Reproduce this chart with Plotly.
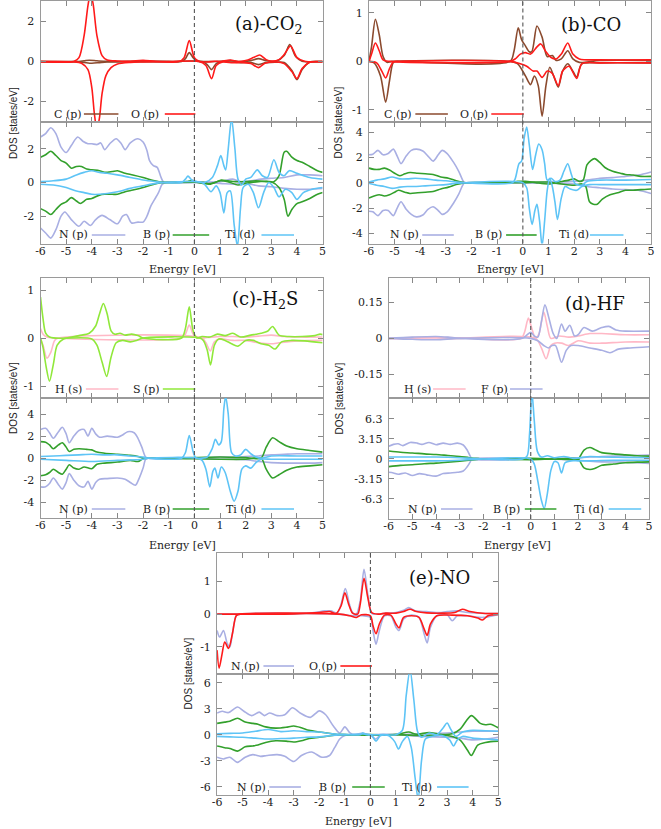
import plotly.graph_objects as go

W, H = 661, 829

# ---------------- DATA (energy [eV], DOS [states/eV]) ----------------
# (a) CO2 : adsorbate
a_C_up = [(-6,0),(-4.6,0),(-4.3,0.04),(-4.1,0.07),(-3.8,0.04),(-3.4,0.01),(-2.0,0.02),(-1.0,0),(-0.5,0),(-0.35,0.15),(-0.2,0.45),(-0.05,0.2),(0.1,0.02),(0.4,0),(1.0,0.02),(1.4,0.05),(1.8,0),(2.2,0.05),(2.5,0.15),(2.8,0.05),(3.2,0.02),(3.5,0.3),(3.72,0.85),(3.95,0.25),(4.2,0.02),(5,0)]
a_C_dn = [(-6,0),(-4.6,0),(-4.3,-0.04),(-4.0,-0.08),(-3.7,-0.05),(-3.4,-0.02),(-1,0),(0.3,0),(0.5,-0.15),(0.67,-0.4),(0.85,-0.1),(1.1,0),(1.5,-0.03),(1.8,-0.05),(2.2,-0.05),(2.5,-0.15),(2.8,-0.05),(3.2,-0.03),(3.5,-0.05),(3.8,-0.45),(4.0,-0.9),(4.2,-0.4),(4.5,-0.02),(5,0)]
a_O_up = [(-6,0),(-4.7,0.01),(-4.5,0.2),(-4.3,1.3),(-4.15,2.8),(-4.05,3.4),(-3.95,2.9),(-3.8,1.3),(-3.6,0.3),(-3.4,0.08),(-3.0,0.03),(-2.5,0.02),(-2.0,0.06),(-1.5,0.01),(-0.6,0),(-0.4,0.2),(-0.2,1.05),(0.0,0.2),(0.2,0.0),(0.5,-0.02),(0.8,0.02),(1.0,0.0),(1.4,0.08),(1.7,0.0),(2.0,0.05),(2.3,0.2),(2.55,0.33),(2.8,0.1),(3.0,0.03),(3.3,0.1),(3.5,0.35),(3.75,0.78),(4.0,0.2),(4.3,0.02),(5,0)]
a_O_dn = [(-6,0),(-4.7,-0.01),(-4.4,-0.08),(-4.15,-0.4),(-4.0,-1.3),(-3.9,-2.6),(-3.8,-3.4),(-3.7,-2.8),(-3.6,-1.6),(-3.45,-0.7),(-3.25,-0.3),(-3.0,-0.12),(-2.5,-0.04),(-2.0,-0.02),(-1,0),(0.2,0),(0.45,-0.2),(0.67,-0.85),(0.85,-0.2),(1.1,-0.02),(1.5,-0.06),(1.8,-0.04),(2.2,-0.1),(2.5,-0.3),(2.75,-0.08),(3.2,-0.02),(3.5,-0.1),(3.8,-0.5),(4.0,-0.85),(4.2,-0.35),(4.5,-0.03),(5,0)]
# (a) CO2 : substrate
a_N_up = [(-6,2.7),(-5.8,2.9),(-5.6,3.25),(-5.4,2.9),(-5.2,2.1),(-5.0,1.78),(-4.8,2.2),(-4.55,2.7),(-4.35,2.45),(-4.15,2.3),(-4.0,2.3),(-3.8,2.25),(-3.65,2.35),(-3.5,1.95),(-3.3,2.3),(-3.05,2.6),(-2.85,2.3),(-2.7,1.95),(-2.5,2.35),(-2.2,2.6),(-2.0,2.4),(-1.85,1.9),(-1.75,1.3),(-1.6,1.0),(-1.45,0.9),(-1.3,0.3),(-1.2,0.02),(-1.0,0),(0,0),(0.5,0.02),(1.0,0.05),(1.5,0.2),(1.8,0.05),(2.2,0.1),(2.6,0.2),(3.0,0.25),(3.5,0.3),(4.0,0.45),(4.5,0.45),(5,0.4)]
a_N_dn = [(-6,-2.7),(-5.8,-3.0),(-5.6,-3.3),(-5.4,-2.8),(-5.2,-2.0),(-5.05,-1.75),(-4.8,-2.2),(-4.5,-2.6),(-4.3,-2.3),(-4.05,-2.55),(-3.85,-2.2),(-3.6,-1.95),(-3.3,-2.2),(-3.0,-2.45),(-2.8,-2.0),(-2.65,-1.9),(-2.45,-2.4),(-2.2,-2.35),(-2.0,-2.35),(-1.85,-2.0),(-1.7,-1.4),(-1.55,-1.0),(-1.4,-0.6),(-1.25,-0.1),(-1.1,0),(0,0),(1.0,-0.05),(1.5,-0.1),(2.0,-0.05),(2.5,-0.2),(3.0,-0.25),(3.5,-0.35),(4.0,-0.4),(4.5,-0.4),(5,-0.35)]
a_B_up = [(-6,1.5),(-5.8,1.65),(-5.6,1.85),(-5.4,1.6),(-5.2,1.3),(-5.0,1.15),(-4.8,0.85),(-4.6,0.95),(-4.4,0.95),(-4.2,0.8),(-4.0,0.75),(-3.7,0.7),(-3.5,0.6),(-3.2,0.65),(-3.0,0.7),(-2.7,0.55),(-2.4,0.45),(-2.0,0.3),(-1.6,0.12),(-1.3,0.02),(-1.0,0),(-0.3,0.05),(-0.1,0.12),(0.1,0.02),(0.5,-0.08),(0.8,0.0),(1.05,0.15),(1.3,0.1),(1.6,0.05),(2.0,0.05),(2.4,0.1),(2.8,0.05),(3.1,0.05),(3.3,0.4),(3.5,1.8),(3.6,1.85),(3.8,1.5),(4.0,1.3),(4.2,1.2),(4.5,0.95),(4.8,0.7),(5,0.6)]
a_B_dn = [(-6,-1.55),(-5.8,-1.7),(-5.6,-1.9),(-5.4,-1.6),(-5.2,-1.3),(-5.0,-1.15),(-4.8,-0.9),(-4.6,-1.1),(-4.45,-1.25),(-4.2,-1.0),(-4.0,-0.95),(-3.7,-0.75),(-3.5,-0.7),(-3.2,-0.7),(-3.0,-0.7),(-2.7,-0.55),(-2.4,-0.45),(-2.0,-0.3),(-1.6,-0.12),(-1.3,-0.02),(-1.0,0),(0.4,0),(0.6,-0.1),(1.0,0.1),(1.3,0.05),(1.7,-0.15),(2.0,-0.05),(2.5,0.05),(3.0,0.05),(3.3,-0.3),(3.5,-1.0),(3.65,-2.0),(3.8,-1.6),(4.0,-1.25),(4.2,-1.15),(4.5,-0.95),(4.8,-0.7),(5,-0.6)]
a_Ti_up = [(-6,0.05),(-5.5,0.1),(-5.0,0.2),(-4.6,0.45),(-4.3,0.6),(-4.0,0.7),(-3.7,0.6),(-3.4,0.55),(-3.0,0.45),(-2.5,0.3),(-2.0,0.15),(-1.5,0.05),(-1.2,0),(-0.5,0),(-0.35,0.2),(-0.25,0.38),(-0.1,0.15),(0.1,0.05),(0.4,0.0),(0.7,0.3),(0.9,1.0),(1.03,1.6),(1.15,1.0),(1.22,0.75),(1.32,2.0),(1.45,3.8),(1.58,2.0),(1.7,0.2),(1.85,-0.15),(2.0,0.2),(2.2,0.3),(2.45,0.75),(2.65,0.4),(2.85,0.3),(3.1,1.35),(3.3,0.6),(3.5,0.4),(3.7,0.7),(4.0,0.55),(4.5,0.3),(5,0.2)]
a_Ti_dn = [(-6,-0.1),(-5.5,-0.15),(-5.0,-0.3),(-4.6,-0.5),(-4.3,-0.6),(-4.0,-0.7),(-3.7,-0.7),(-3.4,-0.65),(-3.0,-0.55),(-2.5,-0.35),(-2.0,-0.2),(-1.5,-0.05),(-1.2,0),(0.3,0),(0.45,-0.2),(0.65,-0.55),(0.85,-0.2),(1.0,-0.6),(1.15,-1.8),(1.28,-0.6),(1.4,-0.5),(1.55,-2.5),(1.68,-3.8),(1.8,-1.5),(1.9,-0.3),(2.1,-0.1),(2.3,-0.6),(2.5,-1.5),(2.7,-0.6),(2.9,0.0),(3.1,-0.3),(3.3,-0.85),(3.55,-0.4),(3.8,-0.6),(4.0,-1.0),(4.25,-0.6),(4.6,-0.4),(5,-0.3)]

# (b) CO : adsorbate
b_C_up = [(-6,0),(-5.9,0.3),(-5.75,0.87),(-5.6,0.55),(-5.45,0.1),(-5.3,-0.02),(-5.1,0),(-0.5,0),(-0.35,0.2),(-0.18,0.69),(-0.05,0.45),(0.1,0.32),(0.25,0.2),(0.35,0.2),(0.55,0.73),(0.75,0.5),(0.95,0.1),(1.15,0.12),(1.3,0.02),(1.5,0.05),(1.75,0.22),(1.95,0.05),(2.2,-0.02),(3,0.02),(5,0.02)]
b_C_dn = [(-6,0),(-5.8,-0.03),(-5.55,-0.3),(-5.35,-0.84),(-5.2,-0.4),(-5.05,-0.02),(-4.9,0),(-0.5,0),(-0.2,-0.05),(0.1,-0.3),(0.3,-0.48),(0.45,-0.3),(0.6,-0.5),(0.75,-1.13),(0.9,-0.5),(1.05,-0.12),(1.2,-0.3),(1.38,-0.53),(1.55,-0.2),(1.75,-0.05),(1.95,-0.2),(2.1,-0.32),(2.3,-0.05),(3,-0.03),(5,-0.03)]
b_O_up = [(-6,0),(-5.9,0.15),(-5.75,0.38),(-5.6,0.22),(-5.45,0.03),(-5.2,0),(-0.5,0),(-0.3,0.05),(-0.1,0.15),(0.1,0.18),(0.3,0.15),(0.55,0.3),(0.7,0.36),(0.9,0.2),(1.1,0.08),(1.3,0.05),(1.5,0.15),(1.75,0.38),(1.95,0.15),(2.2,0.05),(3,0.03),(5,0.03)]
b_O_dn = [(-6,0),(-5.7,-0.03),(-5.5,-0.2),(-5.35,-0.34),(-5.2,-0.15),(-5.05,-0.01),(-4.9,0),(-0.5,0),(-0.1,-0.05),(0.15,-0.1),(0.4,-0.2),(0.55,-0.2),(0.75,-0.33),(0.95,-0.2),(1.15,-0.25),(1.38,-0.5),(1.55,-0.2),(1.8,-0.1),(2.1,-0.35),(2.3,-0.05),(3,-0.03),(5,-0.03)]
# (b) CO : substrate
b_N_up = [(-6,2.2),(-5.85,2.25),(-5.65,2.55),(-5.45,2.2),(-5.25,2.3),(-5.05,2.65),(-4.9,2.1),(-4.75,1.5),(-4.55,2.1),(-4.35,2.55),(-4.15,2.65),(-3.9,2.5),(-3.7,2.1),(-3.5,1.7),(-3.3,2.2),(-3.15,2.55),(-2.95,2.3),(-2.7,1.6),(-2.5,0.9),(-2.3,0.05),(-2.2,0),(0,0),(1.0,0.05),(2.0,0.1),(2.5,0.2),(3.0,0.35),(3.5,0.4),(4.0,0.5),(4.5,0.6),(5,0.85)]
b_N_dn = [(-6,-2.25),(-5.85,-2.3),(-5.65,-2.6),(-5.45,-2.2),(-5.25,-2.2),(-5.05,-2.6),(-4.9,-2.0),(-4.75,-1.5),(-4.55,-2.1),(-4.35,-2.5),(-4.15,-2.7),(-3.9,-2.55),(-3.7,-2.1),(-3.5,-1.9),(-3.3,-2.2),(-3.15,-2.5),(-2.95,-2.3),(-2.7,-1.6),(-2.5,-0.9),(-2.3,-0.05),(-2.2,0),(0,0),(1.0,-0.05),(2.0,-0.1),(2.5,-0.3),(3.0,-0.4),(3.5,-0.5),(4.0,-0.55),(4.5,-0.6),(5,-0.85)]
b_B_up = [(-6,1.15),(-5.8,1.05),(-5.6,1.05),(-5.4,1.15),(-5.2,1.0),(-5.0,0.75),(-4.8,0.55),(-4.6,0.7),(-4.4,0.8),(-4.1,0.75),(-3.8,0.7),(-3.5,0.65),(-3.2,0.45),(-2.9,0.35),(-2.6,0.15),(-2.3,0.02),(-2.2,0),(-0.5,0),(-0.2,0.1),(0.1,0.1),(0.5,0.0),(1.0,-0.1),(1.4,0.05),(1.8,0.2),(2.0,0.3),(2.2,0.1),(2.35,0.2),(2.5,1.4),(2.65,1.75),(2.8,1.9),(3.0,1.6),(3.2,1.2),(3.5,0.9),(3.8,0.75),(4.0,0.65),(4.3,0.6),(4.6,0.5),(5,0.5)]
b_B_dn = [(-6,-1.2),(-5.8,-1.05),(-5.6,-0.95),(-5.4,-1.05),(-5.2,-0.95),(-5.0,-0.75),(-4.85,-0.6),(-4.6,-0.75),(-4.4,-0.85),(-4.1,-0.8),(-3.8,-0.75),(-3.5,-0.7),(-3.2,-0.5),(-2.9,-0.35),(-2.6,-0.15),(-2.3,-0.02),(-2.2,0),(0,0),(0.5,0.05),(1.0,0.05),(1.5,-0.1),(2.0,-0.2),(2.3,-0.1),(2.45,-0.3),(2.6,-1.5),(2.75,-1.7),(2.9,-1.7),(3.1,-1.3),(3.4,-0.95),(3.7,-0.8),(4.0,-0.6),(4.3,-0.6),(4.6,-0.55),(5,-0.5)]
b_Ti_up = [(-6,0.05),(-5.7,0.2),(-5.4,0.3),(-5.1,0.45),(-4.8,0.3),(-4.5,0.3),(-4.2,0.35),(-3.8,0.3),(-3.4,0.2),(-3.0,0.15),(-2.6,0.05),(-2.3,0),(-0.4,0),(-0.3,0.3),(-0.15,1.5),(-0.05,1.7),(0.05,3.5),(0.15,4.4),(0.25,3.0),(0.38,1.05),(0.5,2.2),(0.62,3.05),(0.75,2.6),(0.85,1.5),(0.95,0.2),(1.1,0.35),(1.25,0.1),(1.45,0.2),(1.6,0.9),(1.75,1.5),(1.9,0.6),(2.05,-0.1),(2.3,-0.2),(2.5,0.1),(3.0,0.2),(4.0,0.2),(5,0.25)]
b_Ti_dn = [(-6,-0.05),(-5.7,-0.2),(-5.4,-0.3),(-5.1,-0.45),(-4.8,-0.35),(-4.5,-0.3),(-4.2,-0.3),(-3.8,-0.25),(-3.4,-0.2),(-3.0,-0.15),(-2.6,-0.05),(-2.3,0),(0,0),(0.15,-0.4),(0.25,-2.0),(0.36,-3.3),(0.47,-2.2),(0.55,-1.7),(0.65,-3.0),(0.75,-5.0),(0.85,-3.0),(0.95,-0.6),(1.05,0.35),(1.15,-0.3),(1.25,-1.5),(1.35,-2.9),(1.5,-1.2),(1.65,-0.3),(1.85,-0.5),(2.1,-0.6),(2.3,-0.3),(2.6,-0.15),(3.0,-0.15),(4.0,-0.15),(5,-0.15)]

# (c) H2S : adsorbate
c_H_up = [(-6,0.2),(-5.9,0.08),(-5.75,0.02),(-5.5,0),(-0.5,0),(-0.35,0.08),(-0.2,0.27),(-0.05,0.08),(0.1,0),(0.5,0.01),(1,0.03),(1.5,0.03),(2,0.02),(2.5,0.04),(3,0.06),(3.5,0.03),(4,0.02),(5,0.02)]
c_H_dn = [(-6,-0.02),(-5.9,-0.15),(-5.75,-0.42),(-5.6,-0.3),(-5.45,-0.05),(-5.3,0),(0.3,0),(0.45,-0.1),(0.62,-0.27),(0.78,-0.08),(1.0,-0.02),(1.5,-0.05),(2.0,-0.05),(2.5,-0.1),(3.0,-0.12),(3.3,-0.1),(4.0,-0.06),(5,-0.05)]
c_S_up = [(-6,0.85),(-5.9,0.4),(-5.8,0.1),(-5.65,0.02),(-5.0,0),(-4.5,0.05),(-4.1,0.1),(-3.85,0.25),(-3.7,0.5),(-3.55,0.72),(-3.4,0.5),(-3.25,0.15),(-3.1,0.08),(-2.9,0.1),(-2.7,0.06),(-2.45,0.08),(-2.2,0.05),(-2.0,0),(-0.5,0),(-0.35,0.2),(-0.2,0.65),(-0.05,0.15),(0.1,0.0),(0.3,0.03),(0.6,0.02),(0.9,0.08),(1.2,0.05),(1.5,0.1),(1.8,0.02),(2.2,0.06),(2.6,0.1),(2.85,0.14),(3.05,0.24),(3.3,0.06),(3.7,0.03),(4.2,0.03),(4.7,0.05),(4.9,0.08),(5,0.07)]
c_S_dn = [(-6,0),(-5.9,-0.2),(-5.78,-0.6),(-5.65,-0.9),(-5.5,-0.55),(-5.35,-0.15),(-5.1,-0.02),(-4.8,0),(-4.0,-0.02),(-3.8,-0.15),(-3.6,-0.5),(-3.42,-0.8),(-3.25,-0.4),(-3.05,-0.1),(-2.8,-0.05),(-2.5,-0.08),(-2.25,-0.05),(-2.0,0),(0.2,0),(0.35,-0.05),(0.5,-0.25),(0.63,-0.56),(0.78,-0.15),(0.95,-0.02),(1.2,-0.05),(1.45,-0.12),(1.7,-0.17),(2.0,-0.05),(2.3,-0.05),(2.6,-0.12),(2.9,-0.15),(3.15,-0.23),(3.4,-0.08),(3.8,-0.05),(4.3,-0.06),(5,-0.1)]
# (c) H2S : substrate
c_N_up = [(-6,2.6),(-5.8,2.7),(-5.65,2.3),(-5.5,1.8),(-5.3,2.4),(-5.15,2.8),(-5.0,2.2),(-4.88,1.4),(-4.7,2.0),(-4.5,2.5),(-4.3,2.6),(-4.15,2.0),(-4.0,2.7),(-3.85,2.2),(-3.7,1.9),(-3.4,2.0),(-3.0,1.9),(-2.8,2.1),(-2.6,2.4),(-2.35,2.3),(-2.2,1.8),(-2.05,1.0),(-1.9,0.1),(-1.8,0),(0,0),(0.5,0.05),(1.0,0.1),(1.5,0.1),(2.0,0.15),(2.5,0.2),(3.0,0.3),(3.5,0.35),(4.0,0.4),(4.5,0.4),(5,0.4)]
c_N_dn = [(-6,-2.6),(-5.8,-2.6),(-5.65,-2.3),(-5.5,-1.8),(-5.3,-2.4),(-5.15,-2.8),(-5.0,-2.2),(-4.88,-1.4),(-4.7,-2.0),(-4.5,-2.5),(-4.3,-2.6),(-4.15,-2.1),(-4.0,-2.8),(-3.85,-2.2),(-3.7,-1.9),(-3.4,-1.85),(-3.0,-1.8),(-2.7,-1.9),(-2.5,-2.2),(-2.3,-2.45),(-2.15,-1.8),(-2.0,-0.9),(-1.9,-0.1),(-1.8,0),(0,0),(0.5,-0.05),(1.0,-0.1),(1.5,-0.1),(2.0,-0.15),(2.5,-0.3),(3.0,-0.4),(3.5,-0.45),(4.0,-0.45),(4.5,-0.45),(5,-0.4)]
c_B_up = [(-6,1.5),(-5.8,1.45),(-5.65,1.2),(-5.5,0.85),(-5.3,1.2),(-5.15,1.4),(-5.0,1.0),(-4.88,0.6),(-4.7,0.8),(-4.5,0.85),(-4.2,0.8),(-4.0,0.75),(-3.8,0.55),(-3.5,0.45),(-3.0,0.35),(-2.5,0.25),(-2.2,0.15),(-2.0,0.02),(-1.8,0),(0,0.05),(1,0.1),(2,0.05),(2.6,0.0),(2.8,1.0),(3.05,1.85),(3.3,1.5),(3.6,1.1),(4.0,0.85),(4.5,0.7),(5,0.55)]
c_B_dn = [(-6,-1.6),(-5.8,-1.5),(-5.65,-1.3),(-5.5,-1.0),(-5.3,-1.3),(-5.15,-1.45),(-5.0,-1.0),(-4.88,-0.6),(-4.7,-0.9),(-4.5,-1.0),(-4.3,-0.8),(-4.0,-0.95),(-3.8,-0.55),(-3.5,-0.45),(-3.0,-0.35),(-2.5,-0.2),(-2.2,-0.3),(-2.0,-0.05),(-1.8,0),(0,-0.05),(1.0,-0.1),(2.0,-0.1),(2.6,0.0),(2.8,-1.0),(3.05,-1.8),(3.3,-1.5),(3.6,-1.1),(4.0,-0.8),(4.5,-0.7),(5,-0.6)]
c_Ti_up = [(-6,0.15),(-5.5,0.2),(-5.0,0.25),(-4.5,0.3),(-4.0,0.35),(-3.5,0.3),(-3.0,0.3),(-2.5,0.2),(-2.0,0.1),(-1.8,0),(-0.5,0),(-0.35,0.5),(-0.2,2.05),(-0.05,0.6),(0.05,0.05),(0.3,0.0),(0.5,0.1),(0.7,0.9),(0.82,1.7),(0.95,1.2),(1.05,1.5),(1.15,4.5),(1.22,5.6),(1.32,4.0),(1.45,0.5),(1.6,0.2),(1.8,0.3),(2.0,0.8),(2.2,0.4),(2.4,0.1),(2.6,0.0),(3.0,0.2),(4.0,0.2),(5,0.2)]
c_Ti_dn = [(-6,-0.1),(-5.0,-0.2),(-4.0,-0.3),(-3.0,-0.2),(-2.0,-0.1),(-1.8,0),(0.1,0),(0.3,-0.2),(0.45,-1.0),(0.6,-2.6),(0.72,-1.2),(0.8,-0.9),(0.92,-1.8),(1.05,-0.8),(1.2,-1.3),(1.4,-3.0),(1.55,-3.9),(1.7,-3.0),(1.85,-1.0),(2.0,-0.7),(2.2,-0.9),(2.4,-0.4),(2.6,-0.1),(3.0,-0.1),(4.0,-0.1),(5,-0.1)]

# (d) HF : adsorbate
d_H_up = [(-6,0),(-5,0.003),(-4,0.004),(-3,0.002),(-0.4,0),(-0.25,0.03),(-0.1,0.085),(0.05,0.04),(0.2,0.0),(0.35,0.02),(0.55,0.11),(0.7,0.05),(0.85,0.0),(1.2,0.01),(1.6,0.005),(2.0,0.01),(2.5,0.02),(3.0,0.02),(4.0,0.015),(5,0.015)]
d_H_dn = [(-6,0),(-4,-0.003),(-3,0),(0.2,0),(0.45,-0.04),(0.65,-0.085),(0.85,-0.03),(1.0,-0.02),(1.3,-0.02),(1.6,-0.03),(2.0,-0.01),(2.5,-0.02),(3.0,-0.02),(4.0,-0.015),(5,-0.015)]
d_F_up = [(-6,0),(-5,0.005),(-4,0.008),(-3.5,0.005),(-3,0),(-0.35,0),(-0.15,0.015),(0.0,0.025),(0.15,0.01),(0.3,0.005),(0.45,0.07),(0.6,0.14),(0.78,0.08),(0.95,0.02),(1.1,0.0),(1.3,0.06),(1.45,0.03),(1.65,0.055),(1.85,0.01),(2.0,0.015),(2.25,0.045),(2.6,0.03),(3.0,0.045),(3.3,0.05),(3.6,0.035),(4.0,0.03),(5,0.03)]
d_F_dn = [(-6,0),(-5,-0.004),(-4,-0.006),(-3,0),(0.0,0),(0.3,-0.01),(0.55,-0.03),(0.75,-0.04),(0.9,-0.03),(1.05,-0.03),(1.3,-0.1),(1.5,-0.05),(1.7,-0.03),(2.0,-0.03),(2.5,-0.04),(3.0,-0.05),(3.35,-0.06),(3.7,-0.045),(4.2,-0.04),(5,-0.035)]
# (d) HF : substrate
d_N_up = [(-6,2.0),(-5.8,2.3),(-5.6,2.4),(-5.4,2.1),(-5.1,2.6),(-4.8,2.5),(-4.6,2.3),(-4.3,2.6),(-4.0,2.25),(-3.7,2.5),(-3.4,2.3),(-3.1,2.5),(-2.85,2.2),(-2.7,1.5),(-2.55,0.4),(-2.5,0),(0,0),(1,0.05),(2,0.2),(2.5,0.3),(3,0.4),(4,0.5),(5,0.6)]
d_N_dn = [(-6,-2.1),(-5.8,-2.2),(-5.6,-2.4),(-5.3,-2.2),(-5.0,-2.6),(-4.7,-2.3),(-4.4,-2.5),(-4.0,-2.7),(-3.7,-2.3),(-3.4,-2.2),(-3.1,-2.1),(-2.85,-1.9),(-2.7,-1.3),(-2.55,-0.4),(-2.5,0),(0,0),(1,-0.05),(2,-0.2),(2.5,-0.35),(3,-0.45),(4,-0.5),(5,-0.7)]
d_B_up = [(-6,1.25),(-5.5,1.05),(-5.0,0.95),(-4.5,0.8),(-4.0,0.7),(-3.5,0.55),(-3.0,0.4),(-2.6,0.2),(-2.2,0.05),(-2.0,0),(0,0.1),(1,0.0),(2.0,0.0),(2.1,0.5),(2.25,1.4),(2.5,1.8),(2.7,1.5),(3.0,1.0),(3.5,0.8),(4.0,0.65),(4.5,0.5),(5,0.45)]
d_B_dn = [(-6,-1.2),(-5.5,-1.0),(-5.0,-0.9),(-4.5,-0.75),(-4.0,-0.65),(-3.5,-0.5),(-3.0,-0.35),(-2.6,-0.2),(-2.2,-0.05),(-2.0,0),(0,-0.1),(1,0.0),(2.0,0.0),(2.1,-0.5),(2.25,-1.4),(2.5,-1.65),(2.7,-1.5),(3.0,-1.0),(3.5,-0.8),(4.0,-0.6),(4.5,-0.5),(5,-0.45)]
d_Ti_up = [(-6,0.3),(-5,0.3),(-4,0.3),(-3,0.2),(-2.5,0.1),(-2,0),(-0.35,0),(-0.15,0.5),(-0.05,4.0),(0.05,10.5),(0.15,6.0),(0.28,1.2),(0.45,0.3),(0.7,0.5),(1.0,0.2),(1.4,0.4),(1.8,0.1),(2.5,0.4),(3,0.3),(4,0.25),(5,0.2)]
d_Ti_dn = [(-6,-0.3),(-5,-0.3),(-4,-0.3),(-3,-0.2),(-2.5,-0.1),(-2,0),(0,0),(0.15,-0.8),(0.3,-3.5),(0.45,-6.5),(0.57,-7.8),(0.7,-5.5),(0.85,-1.8),(1.0,-0.4),(1.15,-0.6),(1.3,-2.2),(1.45,-0.6),(1.7,-0.3),(2.0,-0.3),(2.5,-0.3),(3,-0.25),(4,-0.2),(5,-0.2)]

# (e) NO : adsorbate
e_Nmol_up = [(-6,0),(-5.2,0),(-3,0.01),(-2.2,0.05),(-1.8,0.1),(-1.55,0.1),(-1.3,0.03),(-1.15,0.3),(-0.98,0.78),(-0.82,0.3),(-0.7,0.05),(-0.55,0.0),(-0.4,0.4),(-0.25,1.37),(-0.1,0.6),(0.05,0.02),(0.3,0.0),(0.6,0.03),(1.0,0.05),(1.3,0.12),(1.5,0.2),(1.75,0.1),(2.2,0.08),(2.7,0.05),(3.0,0.08),(3.4,0.1),(3.8,0.05),(4.5,0.02),(5,0.02)]
e_Nmol_dn = [(-6,-0.5),(-5.9,-0.7),(-5.75,-0.5),(-5.6,-0.9),(-5.5,-1.0),(-5.4,-0.6),(-5.25,-0.05),(-5.1,0),(-1.3,0),(-0.7,-0.05),(-0.3,-0.05),(0.0,-0.1),(0.1,-0.5),(0.22,-0.92),(0.35,-0.5),(0.55,-0.05),(0.8,-0.05),(1.0,-0.4),(1.12,-0.5),(1.3,-0.15),(1.6,-0.03),(1.9,-0.1),(2.1,-0.6),(2.22,-0.88),(2.35,-0.4),(2.6,-0.05),(3.0,-0.02),(3.2,-0.2),(3.4,-0.05),(3.8,-0.05),(4.4,-0.1),(5,-0.02)]
e_O_up = [(-6,0),(-5.2,0),(-3,0.01),(-2.0,0.05),(-1.6,0.08),(-1.35,0.02),(-1.15,0.25),(-1.0,0.65),(-0.85,0.3),(-0.7,0.03),(-0.5,0.0),(-0.4,0.3),(-0.25,1.1),(-0.1,0.5),(0.05,0.05),(0.3,0.0),(0.6,0.03),(1.0,0.03),(1.3,0.08),(1.55,0.15),(1.8,0.08),(2.2,0.04),(2.8,0.03),(3.3,0.05),(3.6,0.15),(3.9,0.08),(4.5,0.02),(5,0.02)]
e_O_dn = [(-6,-1.1),(-5.92,-1.65),(-5.8,-1.2),(-5.7,-0.85),(-5.55,-1.05),(-5.4,-0.6),(-5.25,-0.05),(-5.1,0),(-1.2,0),(-0.8,-0.05),(-0.55,-0.1),(-0.35,-0.02),(0.0,-0.05),(0.1,-0.35),(0.22,-0.6),(0.35,-0.3),(0.55,-0.03),(0.8,-0.03),(1.0,-0.3),(1.12,-0.42),(1.3,-0.1),(1.6,-0.05),(1.9,-0.1),(2.1,-0.45),(2.22,-0.65),(2.35,-0.3),(2.6,-0.05),(3.2,-0.03),(3.8,-0.05),(4.2,-0.12),(4.38,-0.18),(4.6,-0.05),(5,-0.01)]
# (e) NO : substrate
e_N_up = [(-6,2.5),(-5.8,2.7),(-5.55,2.55),(-5.2,3.2),(-4.95,2.7),(-4.65,2.2),(-4.35,2.6),(-4.15,2.2),(-3.95,2.5),(-3.65,2.2),(-3.35,2.3),(-3.05,3.1),(-2.75,2.5),(-2.35,2.0),(-2.0,2.75),(-1.75,2.3),(-1.45,1.0),(-1.2,0.2),(-1.0,0.9),(-0.8,0.2),(-0.6,0.0),(-0.3,0.2),(-0.1,0.0),(0.5,0.05),(1.0,0.0),(2.0,0.1),(3.0,0.2),(3.5,0.3),(4.0,0.4),(5,0.4)]
e_N_dn = [(-6,-2.6),(-5.75,-2.8),(-5.5,-2.6),(-5.2,-3.2),(-4.9,-2.6),(-4.6,-2.3),(-4.3,-2.5),(-4.05,-2.4),(-3.65,-2.3),(-3.35,-2.5),(-3.0,-3.1),(-2.7,-2.4),(-2.3,-2.0),(-1.9,-2.6),(-1.6,-2.4),(-1.4,-1.5),(-1.2,-0.5),(-1.0,-0.1),(-0.6,0.0),(0.0,0.0),(0.2,-0.5),(0.4,-0.05),(1.0,0.0),(2.0,-0.2),(3.0,-0.3),(3.5,-0.4),(4.0,-0.6),(4.5,-0.5),(5,-0.3)]
e_B_up = [(-6,1.3),(-5.7,1.45),(-5.5,1.55),(-5.2,1.9),(-4.9,1.45),(-4.6,1.3),(-4.4,1.2),(-4.1,0.9),(-3.7,0.75),(-3.3,0.85),(-3.0,1.0),(-2.7,0.8),(-2.4,0.5),(-2.0,0.3),(-1.5,0.1),(-1.2,0.0),(0.0,0.0),(1.0,0.0),(1.5,0.3),(1.8,0.05),(2.3,0.25),(2.7,0.05),(3.2,0.1),(3.5,0.6),(3.95,2.2),(4.3,1.3),(4.5,1.15),(4.7,1.2),(5,0.8)]
e_B_dn = [(-6,-1.3),(-5.7,-1.5),(-5.5,-1.6),(-5.2,-1.9),(-4.9,-1.4),(-4.6,-1.3),(-4.4,-1.2),(-4.1,-0.9),(-3.7,-0.7),(-3.3,-0.75),(-3.0,-0.85),(-2.7,-0.7),(-2.4,-0.45),(-2.0,-0.3),(-1.5,-0.1),(-1.2,0.0),(0.0,-0.05),(1.0,0.0),(2.0,-0.1),(3.0,-0.1),(3.5,-0.6),(3.8,-1.8),(3.95,-2.4),(4.2,-1.2),(4.5,-0.9),(4.7,-0.8),(5,-0.75)]
e_Ti_up = [(-6,0.1),(-5.5,0.15),(-5.0,0.2),(-4.5,0.4),(-4.0,0.6),(-3.5,0.35),(-3.0,0.45),(-2.5,0.35),(-2.0,0.3),(-1.5,0.1),(-1.0,0.0),(-0.4,0.0),(-0.3,0.2),(-0.15,0.0),(0.5,0.0),(1.0,0.0),(1.25,0.5),(1.4,4.5),(1.55,7.5),(1.7,4.0),(1.85,0.3),(2.0,-0.3),(2.3,0.2),(2.6,0.0),(2.85,0.8),(3.0,1.35),(3.15,0.6),(3.35,-0.2),(3.6,0.3),(4.0,0.5),(4.5,0.45),(5,0.4)]
e_Ti_dn = [(-6,-0.2),(-5.5,-0.25),(-5.0,-0.3),(-4.5,-0.4),(-4.0,-0.5),(-3.5,-0.45),(-3.0,-0.4),(-2.5,-0.3),(-2.0,-0.25),(-1.5,-0.1),(-1.0,0.0),(0.0,0.0),(0.1,-0.3),(0.22,-0.75),(0.4,-0.1),(0.7,-0.1),(0.95,-0.8),(1.1,-1.65),(1.25,-0.8),(1.45,-0.2),(1.6,-1.5),(1.75,-5.0),(1.87,-7.5),(2.0,-3.0),(2.15,-0.5),(2.4,-0.2),(2.8,-0.1),(3.1,-0.6),(3.25,-1.3),(3.4,-0.6),(3.6,-0.2),(4.0,-0.4),(4.5,-0.5),(5,-0.6)]

# tick labels
x_ticks = [-6, -5, -4, -3, -2, -1, 0, 1, 2, 3, 4, 5]
a_top_ticks = [2, 0, -2];            a_bot_ticks = [2, 0, -2]
b_top_ticks = [1, 0, -1];            b_bot_ticks = [4, 2, 0, -2, -4]
c_top_ticks = [1, 0, -1];            c_bot_ticks = [4, 2, 0, -2, -4]
d_top_ticks = [0.15, 0, -0.15];      d_bot_ticks = [6.3, 3.15, 0, -3.15, -6.3]
e_top_ticks = [1, 0, -1];            e_bot_ticks = [6, 3, 0, -3, -6]

# ---------------- STYLE ----------------
COL = {
    'C': '#8b4a2e', 'O': '#ff1a1a', 'N': '#a9afe3', 'B': '#33a02c',
    'Ti': '#5ec4f6', 'H': '#ffb8c6', 'S': '#90e83a', 'F': '#a9afe3',
}
SERIF = 'DejaVu Serif, Liberation Serif, serif'
FRAME = '#9a9a9a'

def fx(p):
    return p / W

def fy(p):
    return 1 - p / H

def lab(v):
    return '%g' % v

PANELS = [
    dict(title='(a)-CO<sub>2</sub>', x0=36, x1=322, top=1, mid=122, bot=244,
         ytop=[-3.02, 3.03], ybot=[-3.65, 3.59], ttop=a_top_ticks, tbot=a_bot_ticks,
         top_series=[('C (p)', 'C', a_C_up, a_C_dn), ('O (p)', 'O', a_O_up, a_O_dn)],
         bot_series=[('N (p)', 'N', a_N_up, a_N_dn), ('B (p)', 'B', a_B_up, a_B_dn), ('Ti (d)', 'Ti', a_Ti_up, a_Ti_dn)],
         leg_top=(114, [(48, 80, 115), (126, 162, 193)]),
         leg_bot=(235, [(53, 88, 122), (138, 170, 207), (221, 260, 293)]),
         title_xy=(267, 25), dos_xy=(8, 123), en_xy=(180, 270)),
    dict(title='(b)-CO', x0=369, x1=655, top=1, mid=122, bot=243.5,
         ytop=[-1.25, 1.245], ybot=[-4.8, 4.79], ttop=b_top_ticks, tbot=b_bot_ticks,
         top_series=[('C (p)', 'C', b_C_up, b_C_dn), ('O (p)', 'O', b_O_up, b_O_dn)],
         bot_series=[('N (p)', 'N', b_N_up, b_N_dn), ('B (p)', 'B', b_B_up, b_B_dn), ('Ti (d)', 'Ti', b_Ti_up, b_Ti_dn)],
         leg_top=(114, [(382, 416, 449), (459, 493, 526)]),
         leg_bot=(235, [(388, 423, 455), (474, 508, 539), (560, 593, 627)]),
         title_xy=(594, 25), dos_xy=(338, 122), en_xy=(512, 270)),
    dict(title='(c)-H<sub>2</sub>S', x0=36, x1=322, top=278, mid=398, bot=518,
         ytop=[-1.25, 1.25], ybot=[-5.42, 5.45], ttop=c_top_ticks, tbot=c_bot_ticks,
         top_series=[('H (s)', 'H', c_H_up, c_H_dn), ('S (p)', 'S', c_S_up, c_S_dn)],
         bot_series=[('N (p)', 'N', c_N_up, c_N_dn), ('B (p)', 'B', c_B_up, c_B_dn), ('Ti (d)', 'Ti', c_Ti_up, c_Ti_dn)],
         leg_top=(389, [(49, 82, 115), (128, 160, 193)]),
         leg_bot=(509, [(53, 88, 122), (138, 170, 207), (222, 260, 293)]),
         title_xy=(264, 300), dos_xy=(8, 398), en_xy=(180, 545)),
    dict(title='(d)-HF', x0=389, x1=653, top=278, mid=398, bot=519,
         ytop=[-0.249, 0.252], ybot=[-9.45, 9.6], ttop=d_top_ticks, tbot=d_bot_ticks,
         top_series=[('H (s)', 'H', d_H_up, d_H_dn), ('F (p)', 'F', d_F_up, d_F_dn)],
         bot_series=[('N (p)', 'N', d_N_up, d_N_dn), ('B (p)', 'B', d_B_up, d_B_dn), ('Ti (d)', 'Ti', d_Ti_up, d_Ti_dn)],
         leg_top=(389, [(402, 434, 467), (481, 512, 545)]),
         leg_bot=(509, [(407, 442, 474), (493, 527, 559), (575, 612, 645)]),
         title_xy=(598, 303), dos_xy=(339, 398), en_xy=(520, 545)),
    dict(title='(e)-NO', x0=215, x1=500, top=553, mid=674, bot=795,
         ytop=[-1.83, 1.87], ybot=[-6.96, 7.0], ttop=e_top_ticks, tbot=e_bot_ticks,
         top_series=[('N (p)', 'N', e_Nmol_up, e_Nmol_dn), ('O (p)', 'O', e_O_up, e_O_dn)],
         bot_series=[('N (p)', 'N', e_N_up, e_N_dn), ('B (p)', 'B', e_B_up, e_B_dn), ('Ti (d)', 'Ti', e_Ti_up, e_Ti_dn)],
         leg_top=(666, [(227, 262, 293), (306, 340, 372)]),
         leg_bot=(787, [(233, 268, 300), (316, 352, 385), (400, 438, 470)]),
         title_xy=(440, 577), dos_xy=(186, 673), en_xy=(358, 821)),
]

fig = go.Figure()
layout = {}
shapes = []
annotations = []

def axis_common():
    return dict(showline=True, linecolor=FRAME, linewidth=1, mirror='ticks',
                ticks='inside', ticklen=5, tickcolor='#888', tickwidth=1,
                showgrid=False, zeroline=False, ticklabeloverflow='allow',
                tickfont=dict(family=SERIF, size=11, color='#222'))

for i, P in enumerate(PANELS):
    for j, (part, series) in enumerate([('top', P['top_series']), ('bot', P['bot_series'])]):
        n = 2 * i + j + 1
        xname = 'x' if n == 1 else f'x{n}'
        yname = 'y' if n == 1 else f'y{n}'
        xkey = 'xaxis' if n == 1 else f'xaxis{n}'
        ykey = 'yaxis' if n == 1 else f'yaxis{n}'
        if part == 'top':
            y_lo, y_hi = P['mid'], P['top']
            yr = P['ytop']; tv = P['ttop']
        else:
            y_lo, y_hi = P['bot'], P['mid']
            yr = P['ybot']; tv = P['tbot']
        xa = axis_common()
        xa.update(domain=[fx(P['x0']), fx(P['x1'])], range=[-6, 5], anchor=yname,
                  tickvals=x_ticks, ticktext=[lab(v) for v in x_ticks],
                  showticklabels=(part == 'bot'), ticklabelstandoff=-3)
        ya = axis_common()
        ya.update(domain=[fy(y_lo), fy(y_hi)], range=yr, anchor=xname,
                  tickvals=tv, ticktext=[lab(v) for v in tv], ticklabelstandoff=3)
        layout[xkey] = xa
        layout[ykey] = ya
        for (name, ck, up, dn) in series:
            for arr in (up, dn):
                fig.add_trace(go.Scatter(
                    x=[p[0] for p in arr], y=[p[1] for p in arr],
                    mode='lines', name=name, showlegend=False,
                    line=dict(color=COL[ck], width=1.6, shape='spline', smoothing=0.8),
                    xaxis=xname, yaxis=yname, hoverinfo='skip'))
        # legend (gnuplot style: text then sample line)
        leg_y, entries = P['leg_' + part]
        for (name, ck, _, _), (tx, lx0, lx1) in zip(series, entries):
            annotations.append(dict(text=name, x=fx(tx), y=fy(leg_y), xref='paper', yref='paper',
                                    xanchor='left', yanchor='middle', showarrow=False,
                                    font=dict(family=SERIF, size=11, color='#222')))
            shapes.append(dict(type='line', xref='paper', yref='paper',
                               x0=fx(lx0), x1=fx(lx1), y0=fy(leg_y), y1=fy(leg_y),
                               line=dict(color=COL[ck], width=1.6)))
    # Fermi level dashed line across both sub-panels
    n_top = 2 * i + 1
    shapes.append(dict(type='line', xref=('x' if n_top == 1 else f'x{n_top}'), yref='paper',
                       x0=0, x1=0, y0=fy(P['bot']), y1=fy(P['top']),
                       line=dict(color='#555', width=1.1, dash='4px,3px')))
    tx, ty = P['title_xy']
    annotations.append(dict(text=P['title'], x=fx(tx), y=fy(ty), xref='paper', yref='paper',
                            xanchor='center', yanchor='middle', showarrow=False,
                            font=dict(family=SERIF, size=18, color='#111')))
    dx, dy = P['dos_xy']
    annotations.append(dict(text='DOS [states/eV]', x=fx(dx), y=fy(dy), xref='paper', yref='paper',
                            xanchor='center', yanchor='middle', showarrow=False, textangle=-90,
                            font=dict(family='Liberation Sans Narrow, Liberation Sans, sans-serif', size=10, color='#222')))
    ex, ey = P['en_xy']
    annotations.append(dict(text='Energy [eV]', x=fx(ex), y=fy(ey), xref='paper', yref='paper',
                            xanchor='center', yanchor='middle', showarrow=False,
                            font=dict(family=SERIF, size=11, color='#222')))

fig.update_layout(**layout)
fig.update_layout(width=W, height=H, margin=dict(l=0, r=0, t=0, b=0),
                  paper_bgcolor='white', plot_bgcolor='white',
                  showlegend=False, shapes=shapes, annotations=annotations)

# remove the default page margin so the figure fills the window exactly
fig.write_html('out.html', config={'displayModeBar': False},
               post_script="document.body.style.margin='0';document.body.style.overflow='hidden';")
